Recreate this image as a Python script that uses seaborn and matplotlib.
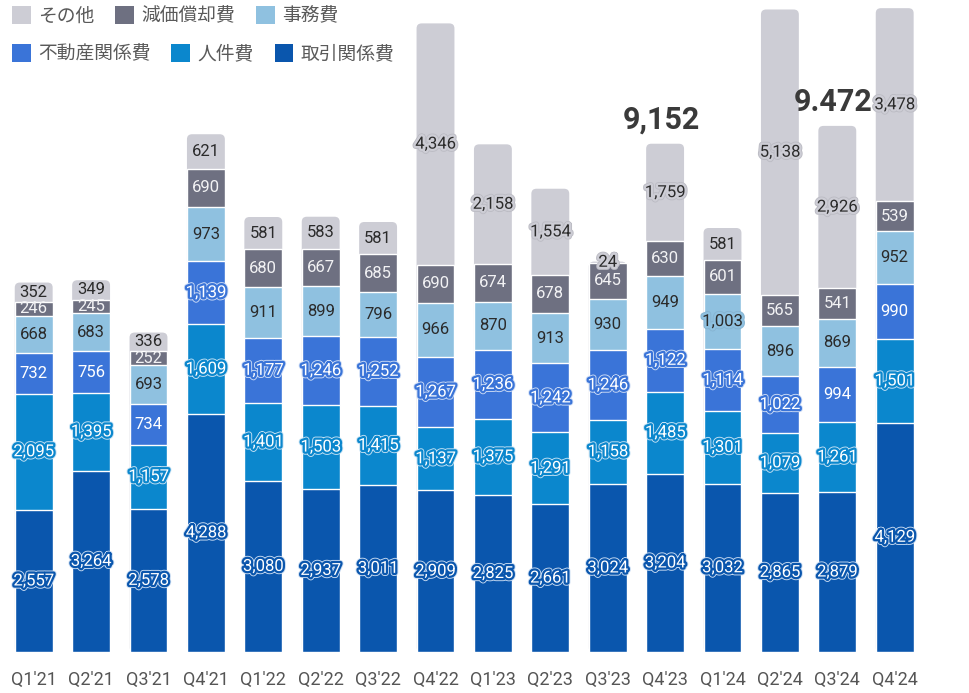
import numpy as np
import pandas as pd
from matplotlib import pyplot as plt
from matplotlib.patches import FancyBboxPatch, Patch
import matplotlib.patheffects as pe
import seaborn as sns


quarters = ["Q1'21", "Q2'21", "Q3'21", "Q4'21", "Q1'22", "Q2'22", "Q3'22", "Q4'22",
            "Q1'23", "Q2'23", "Q3'23", "Q4'23", "Q1'24", "Q2'24", "Q3'24", "Q4'24"]

# 下から順に積み上げ
torihiki = [2557, 3264, 2578, 4288, 3080, 2937, 3011, 2909,
            2825, 2661, 3024, 3204, 3032, 2865, 2879, 4129]
jinken = [2095, 1395, 1157, 1609, 1401, 1503, 1415, 1137,
          1375, 1291, 1158, 1485, 1301, 1079, 1261, 1501]
fudosan = [732, 756, 734, 1139, 1177, 1246, 1252, 1267,
           1236, 1242, 1246, 1122, 1114, 1022, 994, 990]
jimu = [668, 683, 693, 973, 911, 899, 796, 966,
        870, 913, 930, 949, 1003, 896, 869, 952]
genka = [246, 245, 252, 690, 680, 667, 685, 690,
         674, 678, 645, 630, 601, 565, 541, 539]
sonota = [352, 349, 336, 621, 581, 583, 581, 4346,
          2158, 1554, 24, 1759, 581, 5138, 2926, 3478]

series_names = ["取引関係費", "人件費", "不動産関係費", "事務費", "減価償却費", "その他"]
series_values = [torihiki, jinken, fudosan, jimu, genka, sonota]
colors = ["#0a56ad", "#0b87cd", "#3a74d8", "#8fc1e0", "#6e7081", "#cdcdd5"]
text_colors = ["white", "white", "white", "#2b2b2b", "#f2f2f4", "#2b2b2b"]
halo_edges = ["#c9dcf2", "#c6e2f4", "#cddcf5", "#86b4d2", "#9a9cab", "#bcbcc4"]

total_labels = {"Q4'23": "9,152", "Q3'24": "9.472"}

sns.set_style("white")
plt.rcParams["font.family"] = ["Roboto", "Noto Sans CJK JP", "DejaVu Sans"]

fig = plt.figure(figsize=(9.69, 6.93), dpi=100)
ax = fig.add_axes([5 / 969, 41 / 693, 918.4 / 969, 652 / 693])

df = pd.DataFrame(dict(zip(series_names, series_values)), index=quarters)
cum = df.cumsum(axis=1)

# 上の系列から重ねて描く（積み上げ）
for name, color in zip(series_names[::-1], colors[::-1]):
    sns.barplot(x=quarters, y=cum[name].values, color=color, width=0.66,
                saturation=1, order=quarters, ax=ax)

ax.set_ylim(0, 11736)
ax.set_xlim(-0.5, 15.5)

# 一番上のバーは角を丸くする
for p in ax.patches[:len(quarters)]:
    x0, y0 = p.get_x(), p.get_y()
    w, h = p.get_width(), p.get_height()
    p.set_visible(False)
    ax.add_patch(FancyBboxPatch((x0, y0), w, h,
                                boxstyle="round,pad=0,rounding_size=0.09",
                                mutation_aspect=1000, facecolor=colors[-1],
                                edgecolor="none", zorder=0.5))

# 値ラベル
for i, q in enumerate(quarters):
    bottom = 0
    for k, name in enumerate(series_names):
        v = df.loc[q, name]
        y = bottom + v / 2
        label = f"{v:,}"
        effects = None
        if "," in label or v < 200:
            effects = [pe.Stroke(linewidth=4.5, foreground=halo_edges[k]),
                       pe.Stroke(linewidth=3.2, foreground=colors[k]),
                       pe.Normal()]
        ax.text(i, y, label, ha="center", va="center", fontsize=12,
                color=text_colors[k], path_effects=effects, zorder=5)
        bottom += v

# 合計ラベル
for q, txt in total_labels.items():
    i = quarters.index(q)
    ax.annotate(txt, (i, df.loc[q].sum()), xytext=(-3, 11),
                textcoords="offset points", ha="center", va="baseline",
                fontsize=22, fontweight="bold", color="#3a3a3a")

sns.despine(ax=ax, left=True, bottom=True)
ax.set_yticks([])
ax.set_ylabel("")
ax.tick_params(axis="x", length=0, pad=14, labelsize=13, labelcolor="#555555")

# 凡例（2段）
rows = [[5, 4, 3], [2, 1, 0]]
tops = [1 - 6 / 693, 1 - 44 / 693]
for row, top in zip(rows, tops):
    handles = [Patch(facecolor=colors[k], edgecolor="none") for k in row]
    labels = [series_names[k] for k in row]
    fig.legend(handles, labels, loc="upper left", bbox_to_anchor=(12 / 969, top),
               ncol=3, frameon=False, fontsize=13.5, handlelength=1.0,
               handleheight=1.1, handletextpad=0.4, columnspacing=1.1,
               borderpad=0, borderaxespad=0, labelcolor="#5a5a5a")

plt.savefig("out.png", dpi=100)
